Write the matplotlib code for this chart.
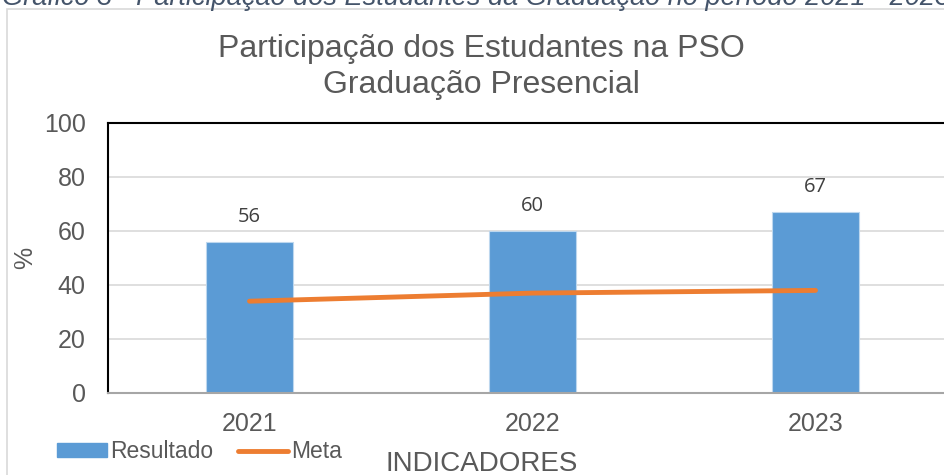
import numpy as np
import matplotlib.pyplot as plt
from matplotlib.patches import Rectangle
from matplotlib.lines import Line2D

plt.rcParams['font.family'] = ['Liberation Sans', 'DejaVu Sans']

anos = ['2021', '2022', '2023']
resultado = [56, 60, 67]
meta = [34, 37, 38]

W, H = 944, 475
fig = plt.figure(figsize=(W / 100, H / 100), dpi=100)

# chart area border (light gray), runs off the right/bottom edge
fig.patches.append(Rectangle((7 / W, -0.05), 1.2, 1 - 9 / H + 0.05, transform=fig.transFigure,
                             fill=False, edgecolor='#d9d9d9', linewidth=1.2))

# caption above the chart, mostly cropped away in the source
fig.text(2 / W, 1 - 5 / H, 'Gráfico 3 - Participação dos Estudantes da Graduação no período 2021 - 2023',
         fontsize=19.5, style='italic', color='#44546a', va='baseline', ha='left')

# plot area: left 108, right ~957 (off-figure), top 123, bottom 393
ax = fig.add_axes([108 / W, (H - 393) / H, 849 / W, 270 / H])
x = np.arange(len(anos))
ax.bar(x, resultado, width=0.31, color='#5b9bd5', edgecolor='#bdd7ee', linewidth=0.8, zorder=2)
ax.plot(x, meta, color='#ed7d31', linewidth=3.5, solid_capstyle='round', zorder=3)

for xi, v in zip(x, resultado):
    ax.text(xi, v + 5.5, str(v), ha='center', va='bottom', fontsize=14.5,
            color='#404040', family=['Open Sans', 'DejaVu Sans'])

ax.set_xlim(-0.5, 2.5)
ax.set_ylim(0, 100)
ax.set_yticks(range(0, 101, 20))
ax.set_xticks(x)
ax.set_xticklabels(anos)
ax.tick_params(axis='both', length=0, labelsize=18, labelcolor='#595959')
ax.tick_params(axis='y', pad=16)
ax.tick_params(axis='x', pad=14)
ax.grid(axis='y', color='#d9d9d9', linewidth=1.2, zorder=0)
ax.set_axisbelow(True)
for s in ['top', 'left', 'right']:
    ax.spines[s].set_color('black')
    ax.spines[s].set_linewidth(1.5)
ax.spines['bottom'].set_color('#a6a6a6')
ax.spines['bottom'].set_linewidth(1.5)

ax.set_ylabel('%', fontsize=18, color='#595959')
ax.yaxis.set_label_coords(-0.083, 0.5)
ax.set_xlabel('INDICADORES', fontsize=20, color='#595959', va='center')
ax.xaxis.set_label_coords((482 - 108) / 849, -0.262)

fig.text(481 / W, 1 - 67 / H, 'Participação dos Estudantes na PSO\nGraduação Presencial',
         ha='center', va='center', fontsize=23, color='#595959', linespacing=1.3)

handles = [Rectangle((0, 0), 1, 1, color='#5b9bd5'),
           Line2D([0], [0], color='#ed7d31', linewidth=3.5, solid_capstyle='round')]
fig.legend(handles, ['Resultado', 'Meta'], loc='center left', bbox_to_anchor=(57 / W, 1 - 452 / H),
           ncol=2, frameon=False, fontsize=16.5, labelcolor='#595959', handlelength=2.2,
           handleheight=0.55, handletextpad=0.1, columnspacing=1.1, borderaxespad=0, borderpad=0)

fig.savefig('out.png', dpi=100)
